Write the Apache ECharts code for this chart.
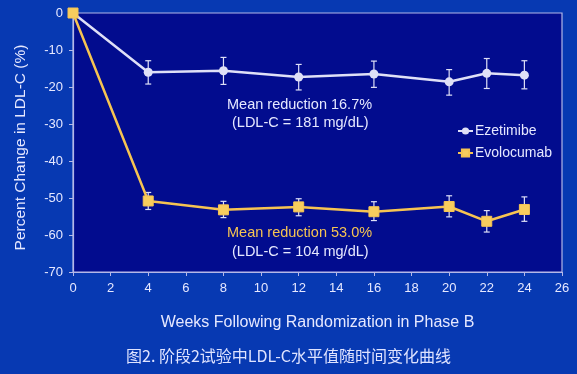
<!DOCTYPE html>
<html><head><meta charset="utf-8">
<script src="https://cdn.jsdelivr.net/npm/echarts@6/dist/echarts.min.js"></script>
<style>html,body{margin:0;padding:0;background:#0739b2;}#c{width:577px;height:374px;}</style>
</head><body><div id="c"></div>
<script>
const weeks = [0, 4, 8, 12, 16, 20, 22, 24];
const ezetimibe = [0, -16.0, -15.6, -17.3, -16.5, -18.6, -16.3, -16.8];
const ezeLow = [null, -19.2, -19.3, -20.8, -20.1, -22.2, -20.4, -20.5];
const ezeHigh = [null, -12.9, -12.0, -13.9, -13.0, -15.3, -12.3, -12.9];
const evolocumab = [0, -50.8, -53.2, -52.4, -53.7, -52.3, -56.3, -53.1];
const evoLow = [null, -53.1, -55.3, -54.8, -56.1, -55.1, -59.2, -56.3];
const evoHigh = [null, -48.5, -50.9, -50.2, -51.0, -49.4, -53.4, -49.7];
const yTicks = [0, -10, -20, -30, -40, -50, -60, -70];
const xTicks = [0, 2, 4, 6, 8, 10, 12, 14, 16, 18, 20, 22, 24, 26];

const txt = '#e6e8ff';
const white = '#dfe0f7';
const gold = '#f6c452';
const font = '"Liberation Sans", Arial, sans-serif';

function pairs(v){ return weeks.map((w,i)=>[w, v[i]]); }
function bars(lo, hi){ return weeks.map((w,i)=>[w, lo[i], hi[i]]).filter(d=>d[1]!==null); }

function errRender(color){
  return function(params, api){
    const x = api.value(0);
    const lo = api.coord([x, api.value(1)]);
    const hi = api.coord([x, api.value(2)]);
    const w = 3;
    const st = {stroke: color, lineWidth: 1.2};
    return {type:'group', children:[
      {type:'line', shape:{x1:lo[0], y1:lo[1], x2:hi[0], y2:hi[1]}, style:st},
      {type:'line', shape:{x1:lo[0]-w, y1:lo[1], x2:lo[0]+w, y2:lo[1]}, style:st},
      {type:'line', shape:{x1:hi[0]-w, y1:hi[1], x2:hi[0]+w, y2:hi[1]}, style:st}
    ]};
  };
}

const chart = echarts.init(document.getElementById('c'), null, {renderer:'canvas'});
chart.setOption({
  backgroundColor: '#0739b2',
  animation: false,
  textStyle: {fontFamily: font},
  grid: {left: 73, right: 15, top: 13, bottom: 102, show: true, backgroundColor: '#020c8e', borderColor: '#b4b8e8', borderWidth: 1.2},
  xAxis: {
    type: 'value', min: 0, max: 26, interval: 2,
    axisLine: {show: true, onZero: false, lineStyle: {color: '#b4b8e8', width: 1.2}},
    axisTick: {show: true, length: 4, lineStyle: {color: '#b4b8e8'}},
    splitLine: {show: false},
    axisLabel: {color: txt, fontSize: 13, fontFamily: font, margin: 10, formatter: v => xTicks.includes(v) ? String(v) : ''},
    name: 'Weeks Following Randomization in Phase B', nameLocation: 'middle', nameGap: 43,
    nameTextStyle: {color: txt, fontSize: 16, fontFamily: font}
  },
  yAxis: {
    type: 'value', min: -70, max: 0, interval: 10,
    axisLine: {show: true, onZero: false, lineStyle: {color: '#b4b8e8', width: 1.2}},
    axisTick: {show: true, length: 4, lineStyle: {color: '#b4b8e8'}},
    splitLine: {show: false},
    axisLabel: {color: txt, fontSize: 13, fontFamily: font, margin: 10, formatter: v => yTicks.includes(v) ? String(v) : ''},
    name: 'Percent Change in LDL-C (%)', nameLocation: 'middle', nameGap: 44, nameRotate: 90,
    nameTextStyle: {color: txt, fontSize: 15.5, fontFamily: font, padding: [0, 0, 0, -10]}
  },
  legend: {
    orient: 'vertical', left: 452, top: 119, itemGap: 8, itemWidth: 15, itemHeight: 9,
    textStyle: {color: txt, fontSize: 14, fontFamily: font, padding: [0,0,0,-3]},
    data: ['Ezetimibe', 'Evolocumab']
  },
  title: {
    text: '图2. 阶段2试验中LDL-C水平值随时间变化曲线', left: 'center', top: 343,
    textStyle: {color: '#dfe3ff', fontSize: 16, fontWeight: 'normal', fontFamily: '"Noto Sans CJK SC", sans-serif'}
  },
  graphic: [
    {type:'text', left: 227, top: 97, style:{text:'Mean reduction 16.7%', fill: txt, font: '14.5px ' + font}},
    {type:'text', left: 232, top: 115, style:{text:'(LDL-C = 181 mg/dL)', fill: txt, font: '14.5px ' + font}},
    {type:'text', left: 227, top: 225, style:{text:'Mean reduction 53.0%', fill: gold, font: '14.5px ' + font}},
    {type:'text', left: 232, top: 244, style:{text:'(LDL-C = 104 mg/dL)', fill: txt, font: '14.5px ' + font}}
  ],
  series: [
    {type:'custom', name:'ezeErr', renderItem: errRender(white), data: bars(ezeLow, ezeHigh), z: 2, silent: true},
    {type:'custom', name:'evoErr', renderItem: errRender(white), data: bars(evoLow, evoHigh), z: 2, silent: true},
    {type:'line', name:'Ezetimibe', data: pairs(ezetimibe), symbol:'circle', symbolSize: 9,
     lineStyle:{color: white, width: 2.5}, itemStyle:{color: white}, z: 3},
    {type:'line', name:'Evolocumab', data: pairs(evolocumab), symbol:'rect', symbolSize: 10,
     lineStyle:{color: gold, width: 2.5}, itemStyle:{color: '#f8cd5e', borderColor: gold, borderWidth: 1}, z: 4}
  ]
});
</script></body></html>
